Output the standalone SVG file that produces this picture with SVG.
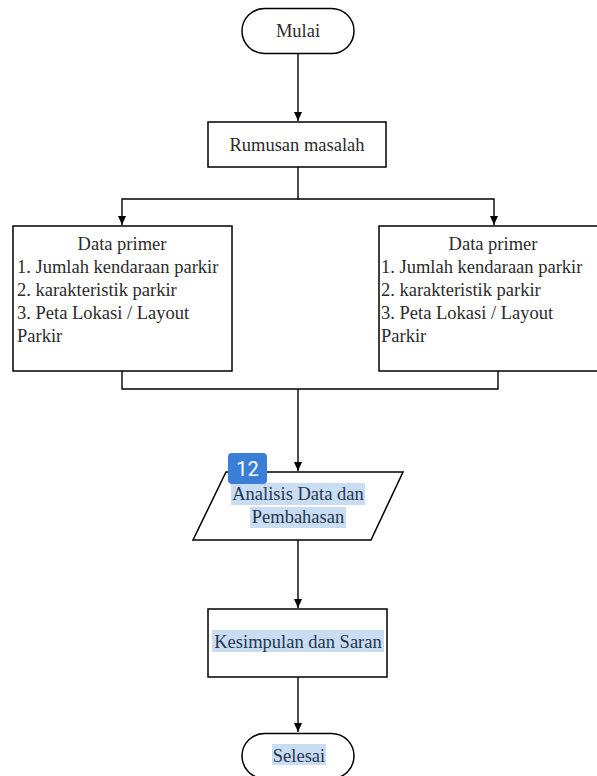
<svg xmlns="http://www.w3.org/2000/svg" width="597" height="776" viewBox="0 0 597 776">
<style>
.shape{fill:#fff;stroke:#000;stroke-width:1.5}
.t{font-family:"Liberation Serif","Times New Roman",serif;font-size:18.5px;fill:#2b2b2b}
.c{text-anchor:middle}
.hl{fill:#c8dcf2}
.ht{fill:#263650}
.conn{fill:none;stroke:#000;stroke-width:1.4}
</style>
<defs>
<marker id="arr" markerWidth="10" markerHeight="10" refX="9" refY="5" orient="auto" markerUnits="userSpaceOnUse">
<path d="M0,1 L9,5 L0,9 Z" fill="#000"/>
</marker>
</defs>
<rect width="597" height="776" fill="#fff"/>
<g id="connectors">
<path class="conn" d="M298,54 V121" marker-end="url(#arr)"/>
<path class="conn" d="M298,167 V199 H122 V225" marker-end="url(#arr)"/>
<path class="conn" d="M298,199 H494 V225" marker-end="url(#arr)"/>
<path class="conn" d="M122,371 V389 H498 V371"/>
<path class="conn" d="M298,389 V471" marker-end="url(#arr)"/>
<path class="conn" d="M298,540 V608" marker-end="url(#arr)"/>
<path class="conn" d="M298,677 V732" marker-end="url(#arr)"/>
</g>
<g id="mulai">
<rect class="shape" x="242" y="8.5" width="112" height="45" rx="22.5"/>
<text class="t c" x="298" y="37">Mulai</text>
</g>
<g id="rumusan">
<rect class="shape" x="208" y="122" width="178" height="45"/>
<text class="t c" x="297" y="151">Rumusan masalah</text>
</g>
<g id="data-kiri">
<rect class="shape" x="13" y="226" width="219" height="145"/>
<text class="t c" x="122" y="250">Data primer</text>
<text class="t" x="17" y="273">1. Jumlah kendaraan parkir</text>
<text class="t" x="17" y="296">2. karakteristik parkir</text>
<text class="t" x="17" y="319">3. Peta Lokasi / Layout</text>
<text class="t" x="17" y="342">Parkir</text>
</g>
<g id="data-kanan">
<rect class="shape" x="379" y="226" width="219" height="145"/>
<text class="t c" x="493" y="250">Data primer</text>
<text class="t" x="381" y="273">1. Jumlah kendaraan parkir</text>
<text class="t" x="381" y="296">2. karakteristik parkir</text>
<text class="t" x="381" y="319">3. Peta Lokasi / Layout</text>
<text class="t" x="381" y="342">Parkir</text>
</g>
<g id="analisis">
<polygon class="shape" points="226,472 403,472 371,540 193,540"/>
<rect class="hl" x="231" y="483" width="134" height="22"/>
<rect class="hl" x="250" y="507" width="96" height="21"/>
<text class="t c ht" x="298" y="500">Analisis Data dan</text>
<text class="t c ht" x="298" y="523">Pembahasan</text>
<rect x="228" y="453" width="39" height="31" rx="4" fill="#3a7fd5"/>
<text x="247.5" y="476" text-anchor="middle" font-family="Roboto,'Noto Sans',sans-serif" font-size="20" fill="#fff">12</text>
</g>
<g id="kesimpulan">
<rect class="shape" x="208" y="609" width="179" height="68"/>
<rect class="hl" x="212" y="630" width="172" height="22"/>
<text class="t c ht" x="298" y="648">Kesimpulan dan Saran</text>
</g>
<g id="selesai">
<rect class="shape" x="242" y="733.5" width="112" height="45" rx="22.5"/>
<rect class="hl" x="272" y="744" width="54" height="21"/>
<text class="t c ht" x="299" y="762">Selesai</text>
</g>
</svg>
